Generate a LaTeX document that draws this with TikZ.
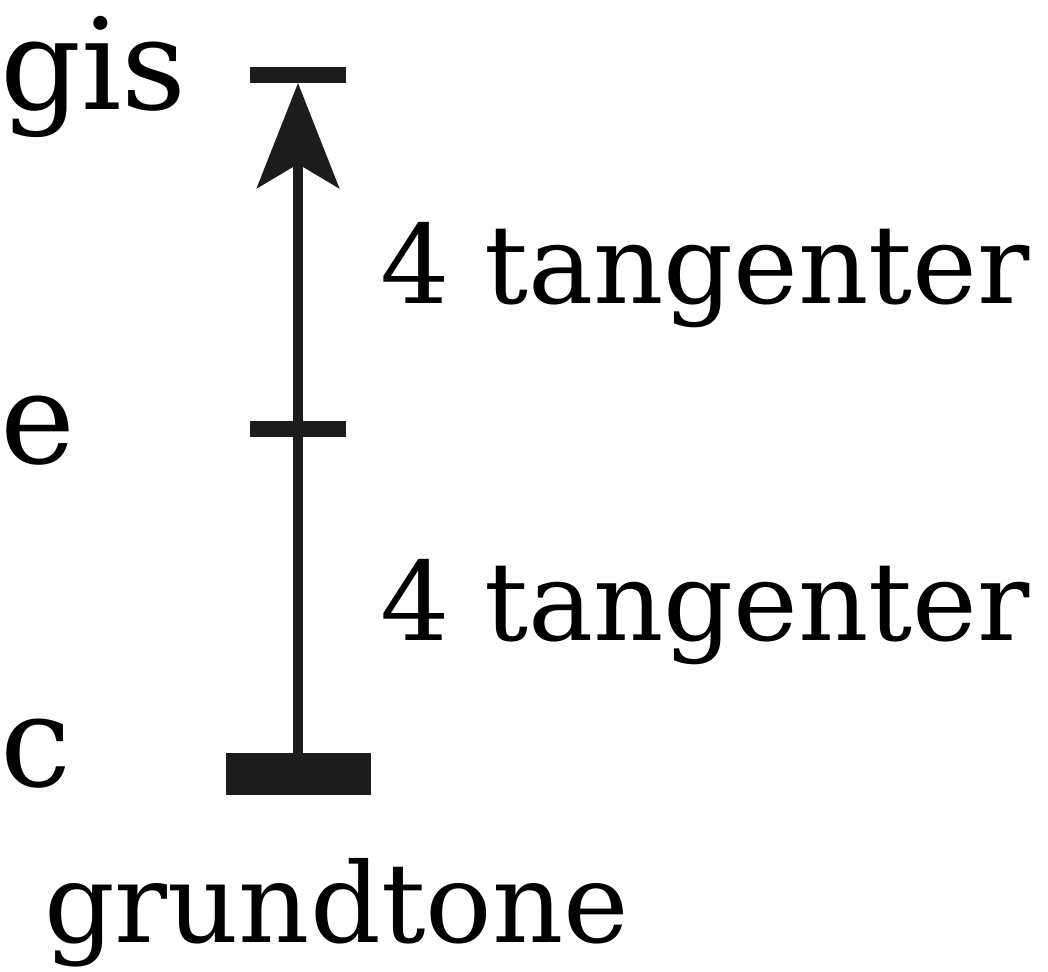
\documentclass[tikz,border=0pt]{standalone}
\usepackage{fontspec}
\setmainfont{DejaVu Serif}
\usetikzlibrary{arrows.meta}
\definecolor{ink}{RGB}{28,28,28}
\tikzset{
  px/.style={x=0.75pt,y=-0.75pt},
  lbl/.style={anchor=base west,inner sep=0pt,outer sep=0pt,text=black},
  big/.style={lbl,font=\fontsize{95}{110}\selectfont},
  mid/.style={lbl,font=\fontsize{83}{100}\selectfont},
  small/.style={lbl,font=\fontsize{82}{100}\selectfont},
  tick/.style={fill=ink,draw=none,inner sep=0pt,outer sep=0pt,minimum width=72pt,minimum height=12pt},
  baserect/.style={fill=ink,draw=none,inner sep=0pt,outer sep=0pt,minimum width=108.75pt,minimum height=31.5pt},
  stem/.style={draw=ink,line width=7.5pt,-{Stealth[length=78.75pt,width=61.5pt,inset=18pt]}}
}
\begin{document}
\begin{tikzpicture}[px]
\useasboundingbox (0,0) rectangle (1048,971);
\node[tick] (top) at (298,75) {};
\node[tick] (mid) at (298,429) {};
\node[baserect] (base) at (298,774) {};
\draw[stem] (base.north) -- (top.south);
\node[big] (gis) at (0,109) {gis};
\node[big] (e) at (0,463) {e};
\node[big] (c) at (0,786) {c};
\node[small] (t1) at (380,303) {4 tangenter};
\node[small] (t2) at (380,640) {4 tangenter};
\node[mid] (g) at (44,942) {grundtone};
\end{tikzpicture}
\end{document}
